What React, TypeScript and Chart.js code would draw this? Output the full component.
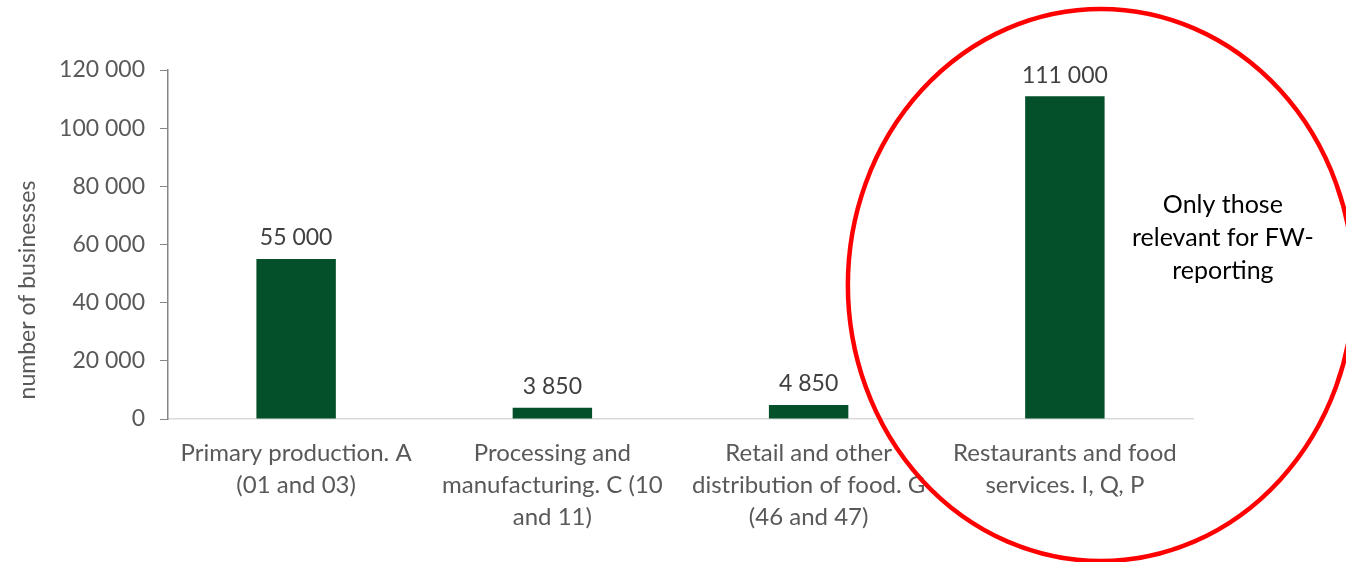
import React, { useEffect, useRef } from "react";
import { Chart, registerables } from "chart.js";

Chart.register(...registerables);

const categories: string[][] = [
  ["Primary production. A", "(01 and 03)"],
  ["Processing and", "manufacturing. C (10", "and 11)"],
  ["Retail and other", "distribution of food. G", "(46 and 47)"],
  ["Restaurants and food", "services. I, Q, P"],
];
const businesses: number[] = [55000, 3850, 4850, 111000];
const yTicks: number[] = [0, 20000, 40000, 60000, 80000, 100000, 120000];
const axisTitle = "number of businesses";
const noteLines: string[] = ["Only those", "relevant for FW-", "reporting"];

const FONT = "Lato, 'Open Sans', sans-serif";
const fmt = (n: number) => n.toLocaleString("en-US").replace(/,/g, " ");

const labelPlugin = {
  id: "valueLabels",
  afterDatasetsDraw(chart: any) {
    const ctx = chart.ctx;
    const meta = chart.getDatasetMeta(0);
    ctx.save();
    ctx.font = `23px ${FONT}`;
    ctx.fillStyle = "#404040";
    ctx.textAlign = "center";
    ctx.textBaseline = "middle";
    meta.data.forEach((bar: any, i: number) => {
      ctx.fillText(fmt(businesses[i]), bar.x, bar.y - 21);
    });
    // y axis title
    ctx.save();
    ctx.translate(28, 290);
    ctx.rotate(-Math.PI / 2);
    ctx.font = `23px ${FONT}`;
    ctx.fillStyle = "#595959";
    ctx.fillText(axisTitle, 0, 0);
    ctx.restore();
    ctx.restore();
  },
};

const circlePlugin = {
  id: "highlightCircle",
  afterDraw(chart: any) {
    const ctx = chart.ctx;
    const meta = chart.getDatasetMeta(0);
    const last = meta.data[meta.data.length - 1];
    const cx = last.x + 36;
    const cy = 285;
    ctx.save();
    ctx.strokeStyle = "#FF0000";
    ctx.lineWidth = 4.5;
    ctx.beginPath();
    ctx.ellipse(cx, cy, 253, 276, 0, 0, Math.PI * 2);
    ctx.stroke();
    ctx.font = `25px ${FONT}`;
    ctx.fillStyle = "#000000";
    ctx.textAlign = "center";
    ctx.textBaseline = "middle";
    noteLines.forEach((t, i) => {
      ctx.fillText(t, last.x + 158, 205 + i * 33);
    });
    ctx.restore();
  },
};

export default function App() {
  const ref = useRef<HTMLCanvasElement>(null);
  useEffect(() => {
    document.body.style.margin = "0";
    const chart = new Chart(ref.current!, {
      type: "bar",
      data: {
        labels: categories,
        datasets: [
          {
            data: businesses,
            backgroundColor: "#03502A",
            borderColor: "#03502A",
            borderWidth: 0,
            barPercentage: 0.31,
            categoryPercentage: 1,
          },
        ],
      },
      options: {
        responsive: false,
        animation: false,
        layout: { padding: { top: 70, right: 153, left: 0, bottom: 0 } },
        plugins: { legend: { display: false }, tooltip: { enabled: false } },
        scales: {
          x: {
            grid: { display: false },
            border: { color: "#D9D9D9", width: 1.5 },
            ticks: {
              color: "#595959",
              font: { family: FONT, size: 24, lineHeight: 1.33 },
              padding: 10,
              maxRotation: 0,
              autoSkip: false,
            },
            afterFit: (s: any) => {
              s.height = 143;
            },
          },
          y: {
            min: 0,
            max: 120000,
            afterBuildTicks: (s: any) => {
              s.ticks = yTicks.map((v) => ({ value: v }));
            },
            grid: {
              drawOnChartArea: false,
              drawTicks: true,
              tickLength: 8,
              color: "#868686",
            },
            border: { color: "#868686", width: 1.5 },
            ticks: {
              color: "#595959",
              font: { family: FONT, size: 23 },
              padding: 15,
              callback: (v: any) => fmt(Number(v)),
            },
            afterFit: (s: any) => {
              s.width = 168;
            },
          },
        },
      },
      plugins: [labelPlugin, circlePlugin],
    });
    return () => chart.destroy();
  }, []);
  return <canvas ref={ref} width={1346} height={562} />;
}
